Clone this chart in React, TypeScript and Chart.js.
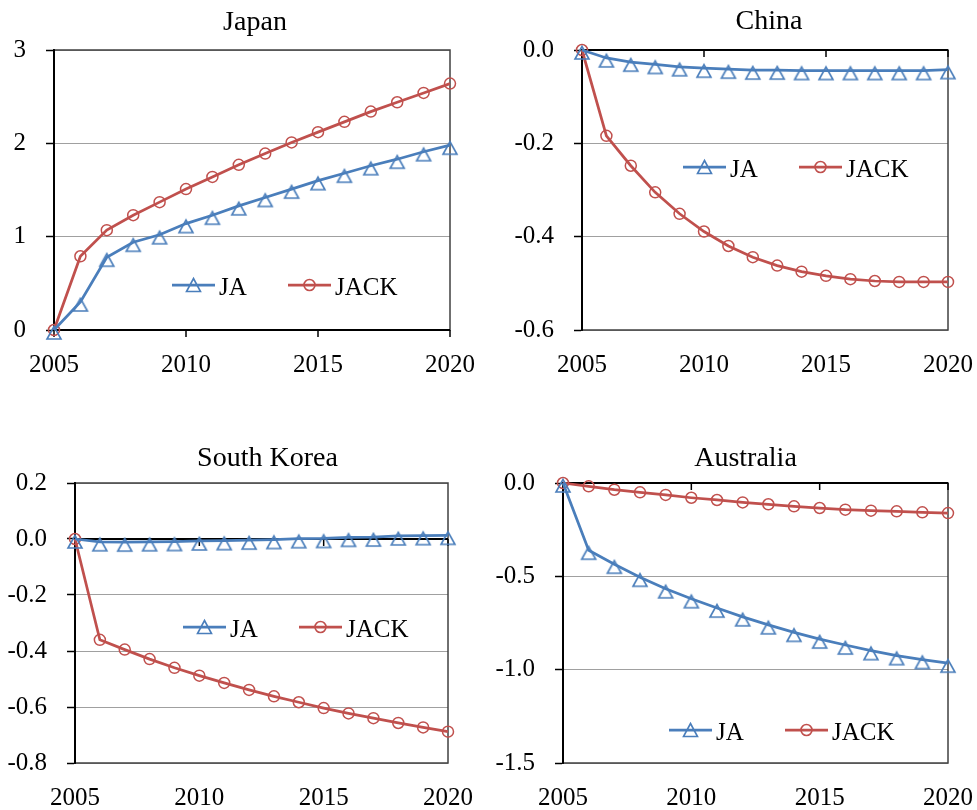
import React, { useEffect, useRef } from 'react';
import { Chart, registerables } from 'chart.js';

Chart.register(...registerables);

// ---------- data ----------
const years = [2005, 2006, 2007, 2008, 2009, 2010, 2011, 2012, 2013, 2014, 2015, 2016, 2017, 2018, 2019, 2020];
const xTicks = [2005, 2010, 2015, 2020];
const seriesNames = ['JA', 'JACK'];

const japanJA = [0, 0.3, 0.78, 0.94, 1.02, 1.14, 1.23, 1.33, 1.42, 1.51, 1.6, 1.68, 1.76, 1.83, 1.91, 1.98];
const japanJACK = [0, 0.79, 1.07, 1.23, 1.37, 1.51, 1.64, 1.77, 1.89, 2.01, 2.12, 2.23, 2.34, 2.44, 2.54, 2.64];

const chinaJA = [0, -0.017, -0.026, -0.031, -0.036, -0.039, -0.041, -0.043, -0.043, -0.044, -0.044, -0.044, -0.044, -0.044, -0.044, -0.042];
const chinaJACK = [0, -0.184, -0.248, -0.305, -0.351, -0.389, -0.42, -0.444, -0.462, -0.475, -0.484, -0.491, -0.495, -0.497, -0.497, -0.497];

const koreaJA = [0, -0.01, -0.011, -0.01, -0.009, -0.007, -0.006, -0.004, -0.002, 0.001, 0.002, 0.006, 0.007, 0.011, 0.012, 0.013];
const koreaJACK = [0, -0.36, -0.395, -0.429, -0.46, -0.488, -0.514, -0.539, -0.562, -0.583, -0.604, -0.623, -0.64, -0.657, -0.673, -0.688];

const australiaJA = [0, -0.36, -0.435, -0.505, -0.567, -0.62, -0.67, -0.717, -0.76, -0.8, -0.836, -0.868, -0.898, -0.925, -0.946, -0.965];
const australiaJACK = [0, -0.018, -0.036, -0.05, -0.064, -0.079, -0.091, -0.104, -0.114, -0.125, -0.134, -0.143, -0.148, -0.152, -0.157, -0.161];

const japanTicks = [0, 1, 2, 3];
const chinaTicks = [-0.6, -0.4, -0.2, 0];
const koreaTicks = [-0.8, -0.6, -0.4, -0.2, 0, 0.2];
const australiaTicks = [-1.5, -1.0, -0.5, 0];

// ---------- styling / layout ----------
const BLUE = '#4a7ebb';
const RED = '#c0504d';
const FONT = "'Liberation Serif', 'Times New Roman', serif";

type Panel = {
  title: string;
  ja: number[];
  jack: number[];
  yTicks: number[];
  decimals: number;
  left: number;
  top: number;
  width: number;
  height: number;
  yAxisWidth: number;
  padRight: number;
  titlePad: { top: number; bottom: number };
  titleDx: number;
  xAxisHeight: number;
  legendX: number;
  legendY: number;
};

const panels: Panel[] = [
  {
    title: 'Japan', ja: japanJA, jack: japanJACK, yTicks: japanTicks, decimals: 0,
    left: 0, top: 0, width: 490, height: 385, yAxisWidth: 54, padRight: 40,
    titlePad: { top: 5.4, bottom: 11 }, titleDx: 3, xAxisHeight: 55, legendX: 172, legendY: 285,
  },
  {
    title: 'China', ja: chinaJA, jack: chinaJACK, yTicks: chinaTicks, decimals: 1,
    left: 490, top: 0, width: 487, height: 385, yAxisWidth: 92, padRight: 29,
    titlePad: { top: 4.7, bottom: 11.7 }, titleDx: 4, xAxisHeight: 55, legendX: 193, legendY: 167,
  },
  {
    title: 'South Korea', ja: koreaJA, jack: koreaJACK, yTicks: koreaTicks, decimals: 1,
    left: 0, top: 430, width: 490, height: 380, yAxisWidth: 75, padRight: 42,
    titlePad: { top: 11.4, bottom: 8 }, titleDx: 6, xAxisHeight: 47, legendX: 183, legendY: 197,
  },
  {
    title: 'Australia', ja: australiaJA, jack: australiaJACK, yTicks: australiaTicks, decimals: 1,
    left: 490, top: 430, width: 487, height: 380, yAxisWidth: 73, padRight: 29,
    titlePad: { top: 11.4, bottom: 8 }, titleDx: -10, xAxisHeight: 47, legendX: 179, legendY: 300,
  },
];

function makeTriangle(): HTMLCanvasElement {
  const c = document.createElement('canvas');
  c.width = 22;
  c.height = 34;
  const g = c.getContext('2d')!;
  g.strokeStyle = BLUE;
  g.lineWidth = 1.6;
  g.lineJoin = 'miter';
  g.beginPath();
  g.moveTo(11, 13.5);
  g.lineTo(18, 26);
  g.lineTo(4, 26);
  g.closePath();
  g.stroke();
  return c;
}

function PanelChart({ p }: { p: Panel }) {
  const ref = useRef<HTMLCanvasElement | null>(null);

  useEffect(() => {
    if (!ref.current) return;
    const tri = makeTriangle();

    const framePlugin = {
      id: 'frameAxes',
      afterLayout(chart: any) {
        const t = chart.titleBlock;
        if (t) {
          t.left += p.titleDx;
          t.right += p.titleDx;
        }
      },
      beforeDatasetsDraw(chart: any) {
        const { ctx, chartArea: a, scales } = chart;
        ctx.save();
        ctx.strokeStyle = '#404040';
        ctx.lineWidth = 1.5;
        ctx.strokeRect(a.left, a.top, a.right - a.left, a.bottom - a.top);
        ctx.strokeStyle = '#000';
        ctx.lineWidth = 2;
        ctx.beginPath();
        ctx.moveTo(a.left, a.top - 0.75);
        ctx.lineTo(a.left, a.bottom + 0.75);
        ctx.stroke();
        const y0 = scales.y.getPixelForValue(0);
        ctx.beginPath();
        ctx.moveTo(a.left, y0);
        ctx.lineTo(a.right, y0);
        ctx.stroke();
        ctx.lineWidth = 1.5;
        ctx.beginPath();
        for (const t of xTicks) {
          const px = scales.x.getPixelForValue(t);
          ctx.moveTo(px, y0);
          ctx.lineTo(px, y0 + 7);
        }
        ctx.stroke();
        ctx.restore();
      },
      afterDatasetsDraw(chart: any) {
        const { ctx } = chart;
        ctx.save();
        const items = [
          { name: seriesNames[0], color: BLUE, marker: 'tri' },
          { name: seriesNames[1], color: RED, marker: 'circle' },
        ];
        items.forEach((it, i) => {
          const x0 = p.legendX + i * 116;
          const y = p.legendY;
          ctx.strokeStyle = it.color;
          ctx.lineWidth = 2.75;
          ctx.beginPath();
          ctx.moveTo(x0, y);
          ctx.lineTo(x0 + 43, y);
          ctx.stroke();
          const cx = x0 + 21.5;
          ctx.lineWidth = 1.6;
          ctx.beginPath();
          if (it.marker === 'tri') {
            ctx.moveTo(cx, y - 6.5);
            ctx.lineTo(cx + 7, y + 6.5);
            ctx.lineTo(cx - 7, y + 6.5);
            ctx.closePath();
          } else {
            ctx.arc(cx, y, 5.5, 0, Math.PI * 2);
          }
          ctx.stroke();
          ctx.fillStyle = '#000';
          ctx.font = `25px ${FONT}`;
          ctx.textBaseline = 'alphabetic';
          ctx.textAlign = 'left';
          ctx.fillText(it.name, x0 + 47, y + 9.5);
        });
        ctx.restore();
      },
    };

    const chart = new Chart(ref.current, {
      type: 'line',
      data: {
        datasets: [
          {
            label: seriesNames[0],
            data: years.map((x, i) => ({ x, y: p.ja[i] })),
            borderColor: BLUE,
            borderWidth: 2.75,
            pointStyle: tri as any,
            pointRadius: 6,
            pointBorderColor: BLUE,
            pointBackgroundColor: 'rgba(0,0,0,0)',
            tension: 0,
            clip: false as any,
          },
          {
            label: seriesNames[1],
            data: years.map((x, i) => ({ x, y: p.jack[i] })),
            borderColor: RED,
            borderWidth: 2.75,
            pointStyle: 'circle',
            pointRadius: 5.5,
            pointBorderWidth: 1.5,
            pointBorderColor: RED,
            pointBackgroundColor: 'rgba(0,0,0,0)',
            tension: 0,
            clip: false as any,
          },
        ],
      },
      options: {
        animation: false,
        responsive: false,
        maintainAspectRatio: false,
        devicePixelRatio: 1,
        layout: { padding: { left: 0, right: p.padRight, top: 0, bottom: 0 } },
        plugins: {
          legend: { display: false },
          tooltip: { enabled: false },
          title: {
            display: true,
            text: p.title,
            fullSize: false,
            color: '#000',
            font: { family: FONT, size: 28, weight: 'normal' as any, lineHeight: 1.2 },
            padding: { top: p.titlePad.top, bottom: p.titlePad.bottom },
          },
        },
        scales: {
          x: {
            type: 'linear',
            min: 2005,
            max: 2020,
            grid: { display: false, drawTicks: false },
            border: { display: false },
            afterBuildTicks: (s: any) => {
              s.ticks = xTicks.map((v) => ({ value: v }));
            },
            afterFit: (s: any) => {
              s.height = p.xAxisHeight;
              s.paddingLeft = 0;
              s.paddingRight = 0;
            },
            ticks: {
              autoSkip: false,
              maxRotation: 0,
              minRotation: 0,
              padding: 20,
              color: '#000',
              font: { family: FONT, size: 25, lineHeight: 1.2 },
              callback: (v: any) => String(v),
            },
          },
          y: {
            type: 'linear',
            min: p.yTicks[0],
            max: p.yTicks[p.yTicks.length - 1],
            grid: {
              color: '#a0a0a0',
              lineWidth: 1,
              drawTicks: true,
              tickLength: 8,
              tickColor: '#000',
              tickWidth: 1.5,
            },
            border: { display: true, color: '#000', width: 2 },
            afterBuildTicks: (s: any) => {
              s.ticks = p.yTicks.map((v) => ({ value: v }));
            },
            afterFit: (s: any) => {
              s.width = p.yAxisWidth;
              s.paddingTop = 0;
              s.paddingBottom = 0;
            },
            ticks: {
              autoSkip: false,
              padding: 20,
              color: '#000',
              font: { family: FONT, size: 25, lineHeight: 1.2 },
              callback: (v: any) => Number(v).toFixed(p.decimals),
            },
          },
        },
      },
      plugins: [framePlugin],
    } as any);

    return () => chart.destroy();
  }, [p]);

  return (
    <canvas
      ref={ref}
      width={p.width}
      height={p.height}
      style={{ position: 'absolute', left: p.left, top: p.top, width: p.width, height: p.height }}
    />
  );
}

export default function App() {
  return (
    <div
      style={{
        position: 'absolute',
        left: 0,
        top: 0,
        width: 977,
        height: 810,
        background: '#fff',
        overflow: 'hidden',
      }}
    >
      {panels.map((p) => (
        <PanelChart key={p.title} p={p} />
      ))}
    </div>
  );
}
